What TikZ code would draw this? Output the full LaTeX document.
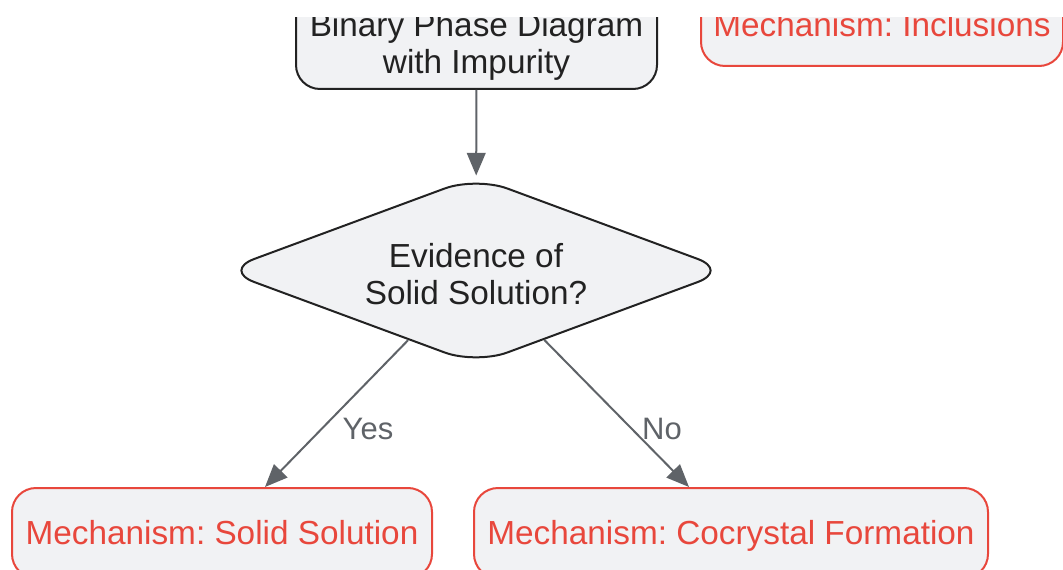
\documentclass[tikz,border=0pt]{standalone}
\usepackage{fontspec}
\setmainfont{Liberation Sans}
\usetikzlibrary{shapes.geometric,arrows.meta}
\frenchspacing
\definecolor{fillc}{HTML}{F1F2F4}
\definecolor{darkc}{HTML}{222222}
\definecolor{redc}{HTML}{E8473C}
\definecolor{grayc}{HTML}{5F6368}
\tikzset{
  gbox/.style={draw=darkc, fill=fillc, line width=1.5pt, rounded corners=18pt, inner sep=0pt},
  rbox/.style={draw=redc, fill=fillc, line width=1.5pt, rounded corners=18pt, inner sep=0pt,
     text=redc, font=\fontsize{25pt}{27.75pt}\selectfont, text height=17.9pt, text depth=0pt},
  gtxt/.style={text=darkc, align=center, font=\fontsize{25pt}{27.75pt}\selectfont, inner sep=0pt},
  arr/.style={draw=grayc, line width=1.5pt, -{Triangle[length=17pt,width=14pt]}},
  lbl/.style={text=grayc, font=\fontsize{23.25pt}{26pt}\selectfont, inner sep=0pt, text height=16.6pt, text depth=0pt}
}
\begin{document}
\begin{tikzpicture}[x=0.75pt,y=-0.75pt]
\useasboundingbox (0,0) rectangle (1063,570);
\clip (0,18) rectangle (1063,570);
% top box
\node[gbox, minimum width=270.75pt, minimum height=94.5pt] (top) at (476.5,26) {};
\node[gtxt] (toptext) at (476.5,46) {Binary Phase Diagram\\with Impurity};
% right box (cut)
\node[rbox, minimum width=271.5pt, minimum height=61.5pt] (incl) at (882,25) {Mechanism: Inclusions};
% diamond
\node[diamond, draw=darkc, fill=fillc, line width=1.5pt, rounded corners=25pt,
      minimum width=380pt, minimum height=141pt, inner sep=0pt, aspect=2.5] (d) at (476,270.5) {};
\node[gtxt] (dtext) at (476,274) {Evidence of\\Solid Solution?};
% bottom boxes
\node[rbox, minimum width=315pt, minimum height=67.5pt] (sol) at (222,533) {Mechanism: Solid Solution};
\node[rbox, minimum width=385.5pt, minimum height=67.5pt] (coc) at (731,533) {Mechanism: Cocrystal Formation};
% connectors
\draw[arr] (top) -- (d);
\draw[arr] (d) -- ([xshift=32.25pt]sol.north);
\draw[arr] (d) -- ([xshift=-31.5pt]coc.north);
\node[lbl] (yes) at (368,428) {Yes};
\node[lbl] (no) at (662,428) {No};
\end{tikzpicture}
\end{document}
